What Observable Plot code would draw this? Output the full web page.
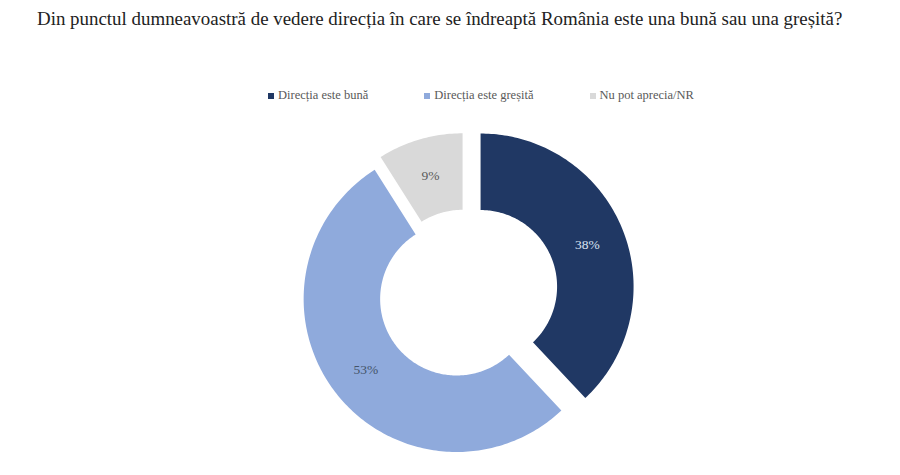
<!DOCTYPE html>
<html>
<head>
<meta charset="utf-8">
<script src="https://cdn.jsdelivr.net/npm/d3@7"></script>
<script src="https://cdn.jsdelivr.net/npm/@observablehq/plot@0.6"></script>
<style>
  body { margin: 0; background: #fff; }
  #chart { position: relative; width: 900px; height: 475px; overflow: hidden; font-family: "Liberation Serif", serif; }
  #plot { position: absolute; left: 0; top: 0; }
  #title { position: absolute; left: 37px; top: 8px; font-size: 19.5px; color: #222; white-space: nowrap; }
  #legend { position: absolute; left: 268px; top: 88px; display: flex; gap: 56px; font-size: 12.5px; color: #595959; white-space: nowrap; }
  .item { display: flex; align-items: center; }
  .sw { width: 6px; height: 6px; margin-right: 4px; }
</style>
</head>
<body>
<div id="chart">
  <div id="plot"></div>
  <div id="title"></div>
  <div id="legend"></div>
</div>
<script>
const titleText = "Din punctul dumneavoastră de vedere direcția în care se îndreaptă România este una bună sau una greșită?";
const categories = ["Direcția este bună", "Direcția este greșită", "Nu pot aprecia/NR"];
const shares = [38, 53, 9];
const colors = ["#203864", "#8faadc", "#d9d9d9"];
const labelColors = ["#dae3f3", "#44546a", "#595959"];

// Donut layout (radius units: outer radius = 1)
const centerX = 464, centerY = 292.4, radiusPx = 153;
const inner = 0.5;
const explode = [0.113, 0.065, 0.045];
const W = 900, H = 475;

// Title
const titleEl = document.getElementById("title");
titleEl.textContent = titleText;

// Legend
const legendEl = document.getElementById("legend");
categories.forEach((c, i) => {
  const item = document.createElement("div");
  item.className = "item";
  const sw = document.createElement("span");
  sw.className = "sw";
  sw.style.background = colors[i];
  const t = document.createElement("span");
  t.textContent = c;
  item.append(sw, t);
  legendEl.append(item);
});

// Slice outlines from pie angles (clockwise from 12 o'clock)
const total = d3.sum(shares);
const rows = [];
const labels = [];
let start = 0;
categories.forEach((cat, i) => {
  const a0 = start * 2 * Math.PI / total;
  const a1 = (start + shares[i]) * 2 * Math.PI / total;
  start += shares[i];
  const mid = (a0 + a1) / 2;
  const ox = explode[i] * Math.sin(mid);
  const oy = explode[i] * Math.cos(mid);
  const n = Math.max(8, Math.ceil((a1 - a0) * 180 / Math.PI));
  for (let k = 0; k <= n; k++) {
    const a = a0 + (a1 - a0) * k / n;
    rows.push({cat, x: ox + Math.sin(a), y: oy + Math.cos(a)});
  }
  for (let k = n; k >= 0; k--) {
    const a = a0 + (a1 - a0) * k / n;
    rows.push({cat, x: ox + inner * Math.sin(a), y: oy + inner * Math.cos(a)});
  }
  const lr = (1 + inner) / 2;
  labels.push({cat, text: shares[i] + "%", x: ox + lr * Math.sin(mid), y: oy + lr * Math.cos(mid), color: labelColors[i]});
});

const chart = Plot.plot({
  width: W,
  height: H,
  margin: 0,
  x: {domain: [-centerX / radiusPx, (W - centerX) / radiusPx], range: [0, W], axis: null},
  y: {domain: [-(H - centerY) / radiusPx, centerY / radiusPx], range: [H, 0], axis: null},
  color: {domain: categories, range: colors},
  style: {fontFamily: "Liberation Serif, serif", background: "transparent"},
  marks: [
    Plot.line(rows, {x: "x", y: "y", z: "cat", fill: "cat", stroke: "none", curve: "linear"}),
    ...labels.map(l => Plot.text([l], {x: "x", y: "y", text: "text", fill: l.color, fontSize: 13.5}))
  ]
});
document.getElementById("plot").append(chart);

// Fit the title to its line width
const targetWidth = 806;
const w = titleEl.getBoundingClientRect().width;
titleEl.style.fontSize = (19.5 * targetWidth / w).toFixed(2) + "px";
</script>
</body>
</html>
